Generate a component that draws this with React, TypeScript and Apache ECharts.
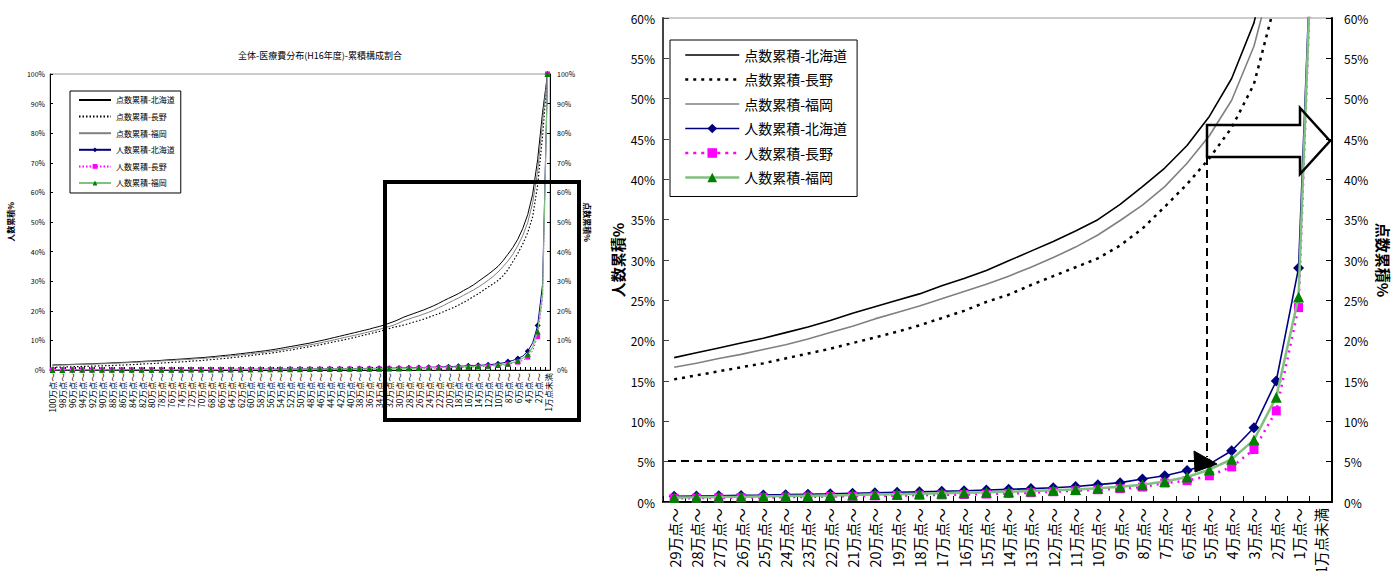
import React, { useEffect, useRef } from "react";
import * as echarts from "echarts";

// categories: index 0 = 100万点～ ... index 99 = 1万点～, index 100 = 1万点未満
const categories: string[] = [
  "100万点～", "99万点～", "98万点～", "97万点～", "96万点～", "95万点～", "94万点～", "93万点～", "92万点～", "91万点～",
  "90万点～", "89万点～", "88万点～", "87万点～", "86万点～", "85万点～", "84万点～", "83万点～", "82万点～", "81万点～",
  "80万点～", "79万点～", "78万点～", "77万点～", "76万点～", "75万点～", "74万点～", "73万点～", "72万点～", "71万点～",
  "70万点～", "69万点～", "68万点～", "67万点～", "66万点～", "65万点～", "64万点～", "63万点～", "62万点～", "61万点～",
  "60万点～", "59万点～", "58万点～", "57万点～", "56万点～", "55万点～", "54万点～", "53万点～", "52万点～", "51万点～",
  "50万点～", "49万点～", "48万点～", "47万点～", "46万点～", "45万点～", "44万点～", "43万点～", "42万点～", "41万点～",
  "40万点～", "39万点～", "38万点～", "37万点～", "36万点～", "35万点～", "34万点～", "33万点～", "32万点～", "31万点～",
  "30万点～", "29万点～", "28万点～", "27万点～", "26万点～", "25万点～", "24万点～", "23万点～", "22万点～", "21万点～",
  "20万点～", "19万点～", "18万点～", "17万点～", "16万点～", "15万点～", "14万点～", "13万点～", "12万点～", "11万点～",
  "10万点～", "9万点～", "8万点～", "7万点～", "6万点～", "5万点～", "4万点～", "3万点～", "2万点～", "1万点～",
  "1万点未満",
];

// 点数累積 (%)
const pointsHokkaido: number[] = [
  1.7, 1.75, 1.8, 1.85, 1.9, 1.95, 2.0, 2.05, 2.1, 2.2,
  2.25, 2.3, 2.4, 2.45, 2.55, 2.6, 2.7, 2.8, 2.9, 3.0,
  3.05, 3.15, 3.25, 3.4, 3.5, 3.6, 3.7, 3.8, 3.95, 4.05,
  4.15, 4.3, 4.45, 4.6, 4.8, 4.95, 5.1, 5.3, 5.5, 5.7,
  5.9, 6.1, 6.3, 6.5, 6.75, 7.0, 7.3, 7.6, 7.9, 8.2,
  8.5, 8.8, 9.1, 9.5, 9.85, 10.2, 10.6, 11.0, 11.4, 11.8,
  12.2, 12.6, 13.0, 13.4, 13.8, 14.3, 14.7, 15.2, 15.8, 16.4,
  17.1, 17.9, 18.5, 19.1, 19.7, 20.3, 21.0, 21.7, 22.5, 23.4,
  24.2, 25.0, 25.8, 26.8, 27.7, 28.7, 29.9, 31.1, 32.3, 33.6,
  35.0, 36.9, 39.1, 41.4, 44.2, 47.8, 52.5, 59.4, 71.0, 87.0,
  100,
];
const pointsNagano: number[] = [
  0.9, 0.95, 1.0, 1.05, 1.1, 1.15, 1.2, 1.25, 1.3, 1.35,
  1.4, 1.45, 1.5, 1.6, 1.65, 1.75, 1.8, 1.9, 2.0, 2.1,
  2.15, 2.25, 2.35, 2.45, 2.55, 2.65, 2.75, 2.85, 3.0, 3.1,
  3.2, 3.35, 3.5, 3.65, 3.8, 3.95, 4.1, 4.3, 4.5, 4.7,
  4.9, 5.1, 5.3, 5.5, 5.7, 5.95, 6.2, 6.45, 6.7, 7.0,
  7.3, 7.6, 7.9, 8.2, 8.5, 8.85, 9.2, 9.55, 9.9, 10.25,
  10.6, 11.0, 11.4, 11.8, 12.2, 12.6, 13.0, 13.5, 14.0, 14.5,
  14.8, 15.2, 15.7, 16.2, 16.7, 17.2, 17.8, 18.4, 19.0, 19.7,
  20.4, 21.1, 21.9, 22.8, 23.7, 24.8, 25.7, 26.9, 28.0, 29.1,
  30.2, 31.8, 33.9, 36.6, 39.4, 42.6, 46.4, 51.8, 62.4, 79.0,
  100,
];
const pointsFukuoka: number[] = [
  1.6, 1.65, 1.7, 1.75, 1.8, 1.85, 1.9, 1.95, 2.0, 2.05,
  2.1, 2.15, 2.25, 2.3, 2.4, 2.45, 2.55, 2.6, 2.7, 2.8,
  2.85, 2.95, 3.05, 3.15, 3.25, 3.35, 3.45, 3.55, 3.65, 3.8,
  3.9, 4.0, 4.15, 4.3, 4.45, 4.6, 4.75, 4.9, 5.1, 5.3,
  5.45, 5.65, 5.85, 6.05, 6.25, 6.5, 6.75, 7.0, 7.3, 7.6,
  7.9, 8.2, 8.5, 8.8, 9.15, 9.5, 9.85, 10.2, 10.6, 11.0,
  11.35, 11.7, 12.1, 12.5, 12.9, 13.3, 13.75, 14.2, 14.7, 15.2,
  15.9, 16.7, 17.2, 17.8, 18.3, 18.9, 19.5, 20.2, 21.0, 21.8,
  22.7, 23.5, 24.3, 25.2, 26.1, 27.0, 28.0, 29.1, 30.3, 31.6,
  33.1, 34.9, 36.8, 39.1, 42.0, 45.4, 49.8, 56.5, 67.0, 84.0,
  100,
];

// 人数累積 (%)
const peopleHokkaido: number[] = [
  0.05, 0.05, 0.05, 0.06, 0.06, 0.06, 0.06, 0.07, 0.07, 0.07,
  0.08, 0.08, 0.08, 0.09, 0.09, 0.10, 0.10, 0.10, 0.11, 0.11,
  0.12, 0.12, 0.13, 0.13, 0.14, 0.14, 0.15, 0.15, 0.16, 0.16,
  0.17, 0.18, 0.18, 0.19, 0.20, 0.20, 0.21, 0.22, 0.22, 0.23,
  0.24, 0.25, 0.26, 0.27, 0.27, 0.28, 0.29, 0.30, 0.31, 0.32,
  0.33, 0.34, 0.35, 0.36, 0.37, 0.38, 0.39, 0.41, 0.42, 0.44,
  0.46, 0.48, 0.50, 0.52, 0.54, 0.55, 0.57, 0.59, 0.61, 0.64,
  0.67, 0.70, 0.74, 0.78, 0.82, 0.86, 0.91, 0.97, 1.02, 1.08,
  1.14, 1.20, 1.26, 1.33, 1.40, 1.48, 1.57, 1.66, 1.77, 1.92,
  2.15, 2.40, 2.85, 3.25, 3.90, 4.70, 6.35, 9.20, 15.0, 29.0,
  100,
];
const peopleNagano: number[] = [
  0.03, 0.03, 0.03, 0.03, 0.04, 0.04, 0.04, 0.04, 0.04, 0.05,
  0.05, 0.05, 0.05, 0.06, 0.06, 0.06, 0.06, 0.07, 0.07, 0.07,
  0.08, 0.08, 0.08, 0.09, 0.09, 0.09, 0.10, 0.10, 0.11, 0.11,
  0.11, 0.12, 0.12, 0.13, 0.13, 0.14, 0.14, 0.15, 0.15, 0.16,
  0.16, 0.17, 0.18, 0.18, 0.19, 0.20, 0.20, 0.21, 0.22, 0.23,
  0.23, 0.24, 0.25, 0.26, 0.27, 0.28, 0.29, 0.30, 0.31, 0.32,
  0.33, 0.34, 0.35, 0.36, 0.37, 0.38, 0.39, 0.40, 0.42, 0.43,
  0.44, 0.46, 0.48, 0.51, 0.54, 0.57, 0.60, 0.64, 0.68, 0.72,
  0.76, 0.80, 0.84, 0.88, 0.93, 0.98, 1.05, 1.15, 1.27, 1.40,
  1.52, 1.65, 1.85, 2.35, 2.65, 3.25, 4.35, 6.50, 11.3, 24.1,
  100,
];
const peopleFukuoka: number[] = [
  0.04, 0.04, 0.04, 0.05, 0.05, 0.05, 0.05, 0.06, 0.06, 0.06,
  0.06, 0.07, 0.07, 0.07, 0.08, 0.08, 0.08, 0.09, 0.09, 0.09,
  0.10, 0.10, 0.11, 0.11, 0.11, 0.12, 0.12, 0.13, 0.13, 0.14,
  0.14, 0.15, 0.15, 0.16, 0.17, 0.17, 0.18, 0.18, 0.19, 0.20,
  0.20, 0.21, 0.22, 0.23, 0.23, 0.24, 0.25, 0.26, 0.27, 0.28,
  0.29, 0.30, 0.31, 0.32, 0.33, 0.34, 0.35, 0.36, 0.37, 0.38,
  0.39, 0.40, 0.41, 0.42, 0.43, 0.45, 0.46, 0.47, 0.49, 0.50,
  0.52, 0.55, 0.58, 0.62, 0.65, 0.69, 0.73, 0.78, 0.82, 0.87,
  0.92, 0.97, 1.02, 1.08, 1.14, 1.20, 1.28, 1.36, 1.45, 1.56,
  1.70, 1.90, 2.15, 2.55, 3.10, 4.00, 5.30, 7.70, 13.0, 25.4,
  100,
];

const seriesNames = [
  "点数累積-北海道",
  "点数累積-長野",
  "点数累積-福岡",
  "人数累積-北海道",
  "人数累積-長野",
  "人数累積-福岡",
];

const ZOOM_START = 71; // 29万点～

const FONT = "'Noto Sans CJK JP', 'Noto Sans', sans-serif";

function buildSeries(chartIdx: number) {
  const big = chartIdx === 1;
  const pick = (arr: number[]) => (big ? arr.slice(ZOOM_START) : arr);
  const base = {
    type: "line" as const,
    xAxisIndex: chartIdx,
    animation: false,
    clip: true,
  };
  return [
    {
      ...base,
      name: seriesNames[0],
      yAxisIndex: chartIdx * 2 + 1,
      data: pick(pointsHokkaido),
      symbol: "none",
      lineStyle: { color: "#000000", width: big ? 1.6 : 1 },
      itemStyle: { color: "#000000" },
      z: 2,
    },
    {
      ...base,
      name: seriesNames[1],
      yAxisIndex: chartIdx * 2 + 1,
      data: pick(pointsNagano),
      symbol: "none",
      lineStyle: { color: "#000000", width: big ? 2.5 : 1.2, type: big ? [3, 5] : [1.5, 2] },
      itemStyle: { color: "#000000" },
      z: 2,
    },
    {
      ...base,
      name: seriesNames[2],
      yAxisIndex: chartIdx * 2 + 1,
      data: pick(pointsFukuoka),
      symbol: "none",
      lineStyle: { color: "#808080", width: big ? 1.6 : 1 },
      itemStyle: { color: "#808080" },
      z: 2,
    },
    {
      ...base,
      name: seriesNames[3],
      yAxisIndex: chartIdx * 2,
      data: pick(peopleHokkaido),
      symbol: "diamond",
      symbolSize: big ? 11 : 6,
      lineStyle: { color: "#000080", width: big ? 1.6 : 1 },
      itemStyle: { color: "#000080" },
      z: 3,
    },
    {
      ...base,
      name: seriesNames[4],
      yAxisIndex: chartIdx * 2,
      data: pick(peopleNagano),
      symbol: "rect",
      symbolSize: big ? 9 : 5,
      lineStyle: { color: "#FF00FF", width: big ? 2.5 : 1, type: big ? [2, 5] : [1.5, 2] },
      itemStyle: { color: "#FF00FF" },
      z: 4,
    },
    {
      ...base,
      name: seriesNames[5],
      yAxisIndex: chartIdx * 2,
      data: pick(peopleFukuoka),
      symbol: "triangle",
      symbolSize: big ? 11 : 6,
      lineStyle: { color: "#80C080", width: big ? 2.5 : 1.2 },
      itemStyle: { color: "#008000" },
      z: 5,
    },
  ];
}

const hideSym = { opacity: 0, borderWidth: 0 };

export default function App() {
  const ref = useRef<HTMLDivElement>(null);

  useEffect(() => {
    if (!ref.current) return;
    const chart = echarts.init(ref.current, undefined, { renderer: "svg", width: 1394, height: 571 });

    const axisLineDark = { show: true, lineStyle: { color: "#000000", width: 1 } };

    const option: any = {
      animation: false,
      backgroundColor: "#ffffff",
      textStyle: { fontFamily: FONT },
      grid: [
        {
          left: 50, top: 74, width: 500, height: 296, show: true, borderColor: "#999999", borderWidth: 1,
          containLabel: false, outerBoundsMode: "none",
        },
        {
          left: 663, top: 18, width: 669, height: 484, show: true, borderColor: "#999999", borderWidth: 1,
          containLabel: false, outerBoundsMode: "none",
        },
      ],
      xAxis: [
        {
          type: "category",
          gridIndex: 0,
          data: categories,
          boundaryGap: true,
          axisLine: axisLineDark,
          axisTick: { show: true, interval: 0, inside: true, length: 3, lineStyle: { color: "#000" } },
          axisLabel: { interval: 1, rotate: 90, fontSize: 8.5, margin: 3, color: "#000", fontFamily: FONT },
          splitLine: { show: false },
        },
        {
          type: "category",
          gridIndex: 1,
          data: categories.slice(ZOOM_START),
          boundaryGap: true,
          axisLine: { show: true, lineStyle: { color: "#000000", width: 2 } },
          axisTick: { show: true, interval: 0, inside: true, length: 6, lineStyle: { color: "#000", width: 1 } },
          axisLabel: { interval: 0, rotate: 90, fontSize: 14.5, margin: 6, color: "#000", fontFamily: FONT },
          splitLine: { show: false },
        },
      ],
      yAxis: [
        {
          type: "value",
          gridIndex: 0,
          position: "left",
          min: 0,
          max: 100,
          interval: 10,
          name: "人数累積%",
          nameLocation: "middle",
          nameGap: 36,
          nameTextStyle: { fontSize: 8, fontWeight: "bold", color: "#000", fontFamily: FONT },
          axisLine: axisLineDark,
          axisTick: { show: true, inside: true, length: 3, lineStyle: { color: "#000" } },
          axisLabel: { formatter: "{value}%", fontSize: 7, margin: 5, color: "#000", fontFamily: FONT },
          splitLine: { show: false },
        },
        {
          type: "value",
          gridIndex: 0,
          position: "right",
          min: 0,
          max: 100,
          interval: 10,
          name: "点数累積%",
          nameLocation: "middle",
          nameGap: 34,
          nameRotate: -90,
          nameTextStyle: { fontSize: 8, fontWeight: "bold", color: "#000", fontFamily: FONT },
          axisLine: axisLineDark,
          axisTick: { show: true, inside: true, length: 3, lineStyle: { color: "#000" } },
          axisLabel: { formatter: "{value}%", fontSize: 7, margin: 7, color: "#000", fontFamily: FONT },
          splitLine: { show: false },
        },
        {
          type: "value",
          gridIndex: 1,
          position: "left",
          min: 0,
          max: 60,
          interval: 5,
          name: "人数累積%",
          nameLocation: "middle",
          nameGap: 38,
          nameTextStyle: { fontSize: 15, fontWeight: "bold", color: "#000", fontFamily: FONT },
          axisLine: { show: true, lineStyle: { color: "#444444", width: 2 } },
          axisTick: { show: true, inside: true, length: 6, lineStyle: { color: "#444" } },
          axisLabel: { formatter: "{value}%", fontSize: 12, margin: 8, color: "#000", fontFamily: FONT },
          splitLine: { show: false },
        },
        {
          type: "value",
          gridIndex: 1,
          position: "right",
          min: 0,
          max: 60,
          interval: 5,
          name: "点数累積%",
          nameLocation: "middle",
          nameGap: 44,
          nameRotate: -90,
          nameTextStyle: { fontSize: 15, fontWeight: "bold", color: "#000", fontFamily: FONT },
          axisLine: { show: true, lineStyle: { color: "#000000", width: 2 } },
          axisTick: { show: true, inside: true, length: 6, lineStyle: { color: "#000" } },
          axisLabel: { formatter: "{value}%", fontSize: 12, margin: 12, color: "#000", fontFamily: FONT },
          splitLine: { show: false },
        },
      ],
      legend: [
        {
          orient: "vertical",
          left: 70,
          top: 91,
          padding: [5, 6, 6, 8],
          itemWidth: 32,
          itemHeight: 6,
          itemGap: 8.6,
          selectedMode: false,
          backgroundColor: "#ffffff",
          borderColor: "#000000",
          borderWidth: 1,
          borderRadius: 0,
          textStyle: { fontSize: 8, color: "#000", fontFamily: FONT },
          data: [
            { name: seriesNames[0], itemStyle: hideSym },
            { name: seriesNames[1], itemStyle: hideSym },
            { name: seriesNames[2], itemStyle: hideSym },
            { name: seriesNames[3] },
            { name: seriesNames[4] },
            { name: seriesNames[5] },
          ],
          z: 10,
        },
        {
          orient: "vertical",
          left: 670,
          top: 40,
          padding: [8, 10, 12, 14],
          itemWidth: 54,
          itemHeight: 12,
          itemGap: 10.5,
          selectedMode: false,
          backgroundColor: "#ffffff",
          borderColor: "#000000",
          borderWidth: 1,
          borderRadius: 0,
          textStyle: { fontSize: 14, color: "#000", fontFamily: FONT },
          data: [
            { name: seriesNames[0], lineStyle: { width: 1.6 }, itemStyle: hideSym },
            { name: seriesNames[1], lineStyle: { width: 2.5, type: [3, 5] }, itemStyle: hideSym },
            { name: seriesNames[2], lineStyle: { width: 1.6 }, itemStyle: hideSym },
            { name: seriesNames[3], lineStyle: { width: 1.6 } },
            { name: seriesNames[4], lineStyle: { width: 2.5, type: [3, 5] } },
            { name: seriesNames[5], lineStyle: { width: 2.5 } },
          ],
          z: 10,
        },
      ],
      series: [...buildSeries(0), ...buildSeries(1)],
      graphic: [
        {
          type: "text",
          x: 320,
          y: 55,
          z: 20,
          style: {
            text: "全体-医療費分布(H16年度)-累積構成割合",
            align: "center",
            verticalAlign: "middle",
            fontSize: 9,
            fontFamily: FONT,
            fill: "#000",
          },
        },
        {
          type: "rect",
          z: 20,
          shape: { x: 385, y: 182, width: 194, height: 238 },
          style: { fill: "none", stroke: "#000", lineWidth: 4 },
        },
        {
          type: "line",
          z: 20,
          shape: { x1: 668, y1: 461, x2: 1195, y2: 461 },
          style: { stroke: "#000", lineWidth: 2, lineDash: [8, 5] },
        },
        {
          type: "line",
          z: 20,
          shape: { x1: 1207, y1: 157, x2: 1207, y2: 457 },
          style: { stroke: "#000", lineWidth: 2, lineDash: [8, 5] },
        },
        {
          type: "polygon",
          z: 20,
          shape: { points: [[1194, 451], [1195, 472], [1217, 464]] },
          style: { fill: "#000", stroke: "#000", lineWidth: 1 },
        },
        {
          type: "polygon",
          z: 20,
          shape: {
            points: [
              [1207, 125], [1300, 125], [1300, 108], [1330, 141],
              [1300, 174], [1300, 157], [1207, 157],
            ],
          },
          style: { fill: "none", stroke: "#000", lineWidth: 2.5 },
        },
      ],
    };

    chart.setOption(option);
    return () => {
      chart.dispose();
    };
  }, []);

  return (
    <div
      ref={ref}
      style={{ position: "fixed", left: 0, top: 0, width: 1394, height: 571, background: "#fff" }}
    />
  );
}
